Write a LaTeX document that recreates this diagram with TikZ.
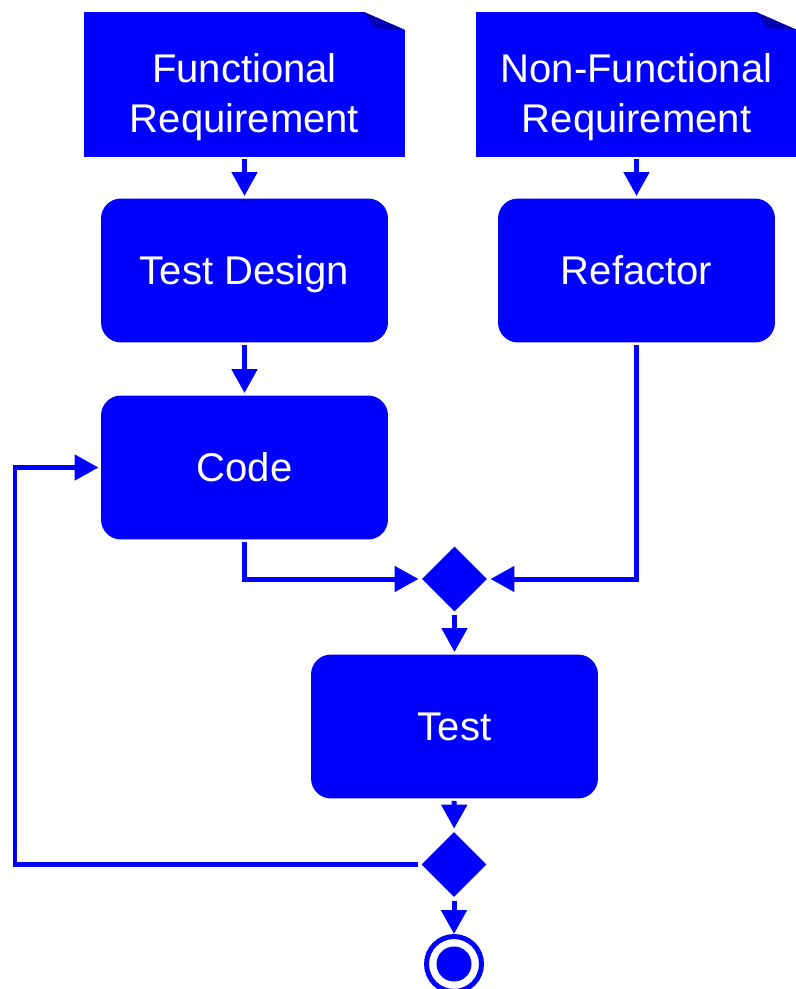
\documentclass[tikz,border=0pt]{standalone}
\usepackage{fontspec}
\setmainfont{Liberation Sans}
\usepackage{xcolor}
\usepackage{tikz}
\usetikzlibrary{arrows.meta}
\usetikzlibrary{shapes.geometric}

\definecolor{actblue}{RGB}{0,0,255}
\definecolor{foldblue}{RGB}{0,0,175}

\begin{document}
\begin{tikzpicture}[
		%Global config
		x=0.02cm, y=-0.02cm,
		>={Triangle[length=0.48cm,width=0.5cm]},
		line width=0.1cm,
		color = actblue,
		font=\fontsize{22.8pt}{28.2pt}\selectfont,
		%Styles
		Action/.style={
			rectangle,
			rounded corners=0.4cm,
			fill=actblue,
			text=white,
			align=center,
			inner sep=0pt,
			text height=0.6cm,
			text depth=0.024cm,
			minimum width=5.74cm,
			minimum height=2.88cm,
		},
		Doc/.style={
			rectangle,
			text=white,
			align=center,
			inner sep=0pt,
			text height=1.944cm,
			text depth=0.024cm,
			minimum width=6.42cm,
			minimum height=2.9cm,
			path picture={
				\fill[actblue] (path picture bounding box.north west)
					-- ([xshift=-0.82cm]path picture bounding box.north east)
					-- ([yshift=-0.36cm]path picture bounding box.north east)
					-- (path picture bounding box.south east)
					-- (path picture bounding box.south west) -- cycle;
				\fill[foldblue] ([xshift=-0.82cm]path picture bounding box.north east)
					-- ([xshift=-0.6cm,yshift=-0.32cm]path picture bounding box.north east)
					-- ([yshift=-0.36cm]path picture bounding box.north east) -- cycle;
			},
		},
		Merge/.style={
			diamond,
			fill=actblue,
			inner sep=0pt,
			minimum size=1.34cm,
		},
		Final/.style={
			circle,
			draw=actblue,
			inner sep=0pt,
			minimum size=1.1cm,
			path picture={
				\fill[actblue] (path picture bounding box.center) circle (0.35cm);
			},
		},
		flow/.style={
			->,
			draw=actblue,
			line width=0.1cm,
		}
		]
		
		\useasboundingbox (0,0) rectangle (795,989);
		
		% requirements
		\node[Doc] (funreq) at (244.5,84.5) {Functional\\Requirement};
		\node[Doc] (nfunreq) at (636.5,84.5) {Non-Functional\\Requirement};
		
		% actions
		\node[Action] (tdesign) at (244.5,270.5) {Test Design};
		\node[Action, minimum width=5.54cm] (refactor) at (636.5,270.5) {Refactor};
		\node[Action] (code) at (244.5,467.5) {Code};
		\node[Action] (test) at (454.5,726.5) {Test};
		
		% decisions
		\node[Merge] (merge) at (454.5,579) {};
		\node[Merge] (decide) at (454,864.5) {};
		\node[Final] (final) at (454,964) {};
		\coordinate (back) at (15,864.5);
		
		% flows
		\draw[flow] (funreq) -- (tdesign);
		\draw[flow] (nfunreq) -- (refactor);
		\draw[flow] (tdesign) -- (code);
		\draw[flow] (code.south) |- (merge.west);
		\draw[flow] (refactor.south) |- (merge.east);
		\draw[flow] (merge) -- (test);
		\draw[flow] (test) -- (decide);
		\draw[flow] (decide) -- (final);
		\draw[flow] (decide.west) -- (back) |- (code.west);
	\end{tikzpicture}
\end{document}
